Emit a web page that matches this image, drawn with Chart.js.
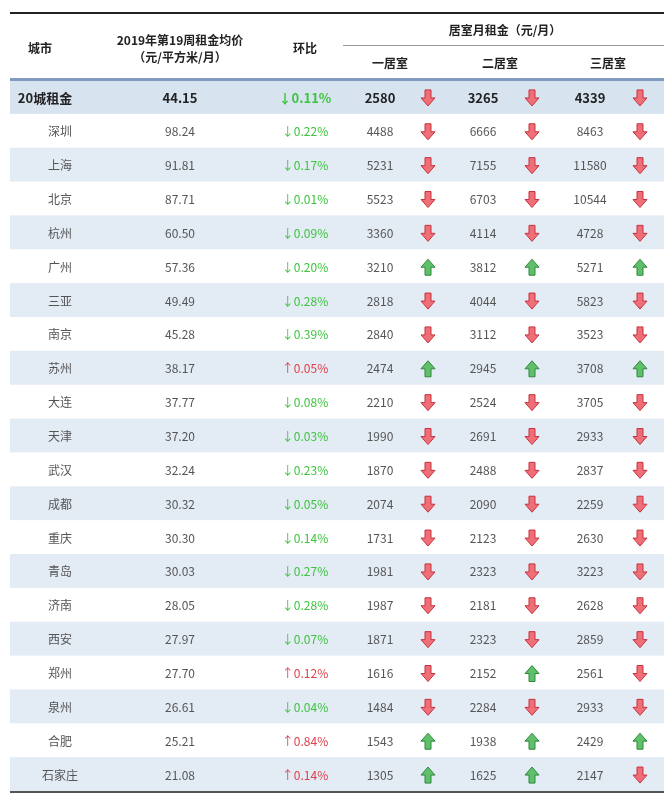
<!DOCTYPE html>
<html><head><meta charset="utf-8">
<script src="https://cdn.jsdelivr.net/npm/chart.js@4"></script>
<style>body{margin:0;background:#fff}</style>
</head><body>
<canvas id="c" width="672" height="801"></canvas>
<script>
const cities = ['20城租金','深圳','上海','北京','杭州','广州','三亚','南京','苏州','大连','天津','武汉','成都','重庆','青岛','济南','西安','郑州','泉州','合肥','石家庄'];
const avgPrice = ['44.15','98.24','91.81','87.71','60.50','57.36','49.49','45.28','38.17','37.77','37.20','32.24','30.32','30.30','30.03','28.05','27.97','27.70','26.61','25.21','21.08'];
const change = [-0.11,-0.22,-0.17,-0.01,-0.09,-0.20,-0.28,-0.39,0.05,-0.08,-0.03,-0.23,-0.05,-0.14,-0.27,-0.28,-0.07,0.12,-0.04,0.84,0.14];
const rent1 = [2580,4488,5231,5523,3360,3210,2818,2840,2474,2210,1990,1870,2074,1731,1981,1987,1871,1616,1484,1543,1305];
const rent2 = [3265,6666,7155,6703,4114,3812,4044,3112,2945,2524,2691,2488,2090,2123,2323,2181,2323,2152,2284,1938,1625];
const rent3 = [4339,8463,11580,10544,4728,5271,5823,3523,3708,3705,2933,2837,2259,2630,3223,2628,2859,2561,2933,2429,2147];
// 1 = up, -1 = down
const dir1 = [-1,-1,-1,-1,-1,1,-1,-1,1,-1,-1,-1,-1,-1,-1,-1,-1,-1,-1,1,1];
const dir2 = [-1,-1,-1,-1,-1,1,-1,-1,1,-1,-1,-1,-1,-1,-1,-1,-1,1,-1,1,1];
const dir3 = [-1,-1,-1,-1,-1,1,-1,-1,1,-1,-1,-1,-1,-1,-1,-1,-1,-1,-1,1,-1];

const X = {city:50, avg:180, chg:305, n1:380, a1:428, n2:483, a2:532, n3:590, a3:640};
const FONT = '"Noto Sans CJK SC", sans-serif';

function arrow(ctx, x, y, up) {
  ctx.save();
  ctx.translate(x, y);
  if (up) ctx.scale(1, -1);
  ctx.beginPath();
  ctx.moveTo(-3, -8); ctx.lineTo(3, -8); ctx.lineTo(3, 0); ctx.lineTo(7, 0);
  ctx.lineTo(0, 8); ctx.lineTo(-7, 0); ctx.lineTo(-3, 0); ctx.closePath();
  ctx.fillStyle = up ? '#5fbf6a' : '#ee6f78';
  ctx.strokeStyle = up ? '#2f8a3a' : '#c8323d';
  ctx.lineWidth = 1;
  ctx.fill(); ctx.stroke();
  ctx.restore();
}

const tablePlugin = {
  id: 'table',
  beforeDatasetsDraw(chart) {
    const {ctx, scales: {x, y}, chartArea: a} = chart;
    const band = y.getPixelForValue(1) - y.getPixelForValue(0);
    cities.forEach((c, i) => {
      const cy = y.getPixelForValue(i);
      if (i % 2 === 0) {
        ctx.fillStyle = i === 0 ? '#d8e3f0' : '#e3ebf5';
        ctx.fillRect(a.left, cy - band / 2, a.right - a.left, band);
      }
    });
    // header
    ctx.fillStyle = '#222';
    ctx.fillRect(a.left, 12, a.right - a.left, 2);
    ctx.fillStyle = '#7f9cc0';
    ctx.fillRect(a.left, a.top - 2, a.right - a.left, 3);
    ctx.fillStyle = '#555';
    ctx.fillRect(a.left, a.bottom, a.right - a.left, 2);
    ctx.fillStyle = '#999';
    ctx.fillRect(343, 45, a.right - 343, 1);
    ctx.fillStyle = '#222';
    ctx.textAlign = 'center'; ctx.textBaseline = 'middle';
    ctx.font = 'bold 12px ' + FONT;
    ctx.fillText('城市', 40, 48);
    ctx.fillText('2019年第19周租金均价', 180, 40);
    ctx.fillText('（元/平方米/月）', 180, 57);
    ctx.fillText('环比', 305, 48);
    ctx.fillText('居室月租金（元/月）', 505, 30);
    ctx.fillText('一居室', 390, 63);
    ctx.fillText('二居室', 500, 63);
    ctx.fillText('三居室', 608, 63);
  },
  afterDatasetsDraw(chart) {
    const {ctx, scales: {y}} = chart;
    ctx.textBaseline = 'middle';
    cities.forEach((c, i) => {
      const cy = y.getPixelForValue(i) + 1;
      const bold = i === 0;
      ctx.font = (bold ? 'bold 13px ' : '12px ') + FONT;
      ctx.fillStyle = bold ? '#222' : '#555';
      ctx.textAlign = 'center';
      ctx.fillText(c, bold ? 45 : 60, cy);
      ctx.fillText(avgPrice[i], X.avg, cy);
      ctx.fillText(rent1[i], X.n1, cy);
      ctx.fillText(rent2[i], X.n2, cy);
      ctx.fillText(rent3[i], X.n3, cy);
      const v = change[i];
      ctx.fillStyle = v < 0 ? '#3cc43c' : '#e0404a';
      ctx.fillText((v < 0 ? '↓' : '↑') + Math.abs(v).toFixed(2) + '%', X.chg, cy);
      arrow(ctx, X.a1, cy, dir1[i] > 0);
      arrow(ctx, X.a2, cy, dir2[i] > 0);
      arrow(ctx, X.a3, cy, dir3[i] > 0);
    });
  }
};

new Chart(document.getElementById('c'), {
  type: 'bar',
  data: { labels: cities, datasets: [{ data: cities.map(() => null) }] },
  options: {
    responsive: false,
    animation: false,
    indexAxis: 'y',
    layout: { padding: { top: 80, bottom: 10, left: 10, right: 8 } },
    plugins: { legend: { display: false }, tooltip: { enabled: false } },
    scales: {
      y: { display: false, offset: true },
      x: { display: false, min: 0, max: 1 }
    }
  },
  plugins: [tablePlugin]
});
</script>
</body></html>
